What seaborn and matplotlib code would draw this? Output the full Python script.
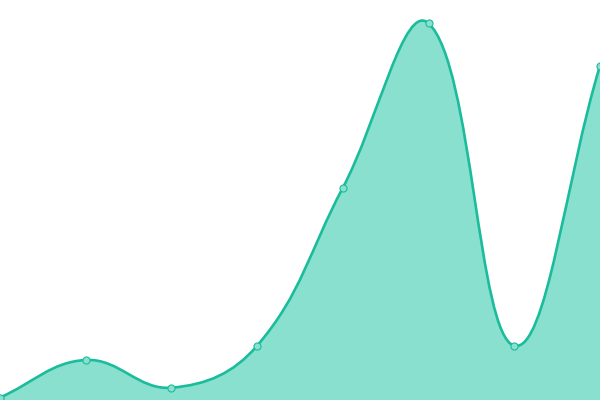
import numpy as np
import pandas as pd
import seaborn as sns
import matplotlib.pyplot as plt
from matplotlib.path import Path
from matplotlib.patches import PathPatch

# Data
x_vals = [0, 1, 2, 3, 4, 5, 6, 7]
y_vals = [2.5, 40, 12.3, 54.3, 212.3, 376.7, 54.3, 334.3]

line_color = "#1abc9c"
fill_color = "#8ae0cf"

sns.set_style("white")
fig = plt.figure(figsize=(6, 4), dpi=100)
ax = fig.add_axes([0, 0, 1, 1])
ax.set_xlim(0, 7)
ax.set_ylim(0, 400)
ax.axis("off")

data = pd.DataFrame({"x": x_vals, "y": y_vals})

# smooth bezier path (tension 0.4, control points computed in pixel space)
pts = ax.transData.transform(np.column_stack([x_vals, y_vals]))
n = len(pts)
tension = 0.4
cps = []
for i in range(n):
    p1 = pts[i]
    p0 = pts[i - 1] if i > 0 else p1
    p2 = pts[i + 1] if i < n - 1 else p1
    d01 = np.hypot(*(p1 - p0))
    d12 = np.hypot(*(p2 - p1))
    tot = d01 + d12
    fa = tension * d01 / tot if tot else 0
    fb = tension * d12 / tot if tot else 0
    c_prev = p1 - fa * (p2 - p0)
    c_next = p1 + fb * (p2 - p0)
    cps.append((c_prev, c_next))

bbox = ax.bbox
def cap(p):
    return np.array([min(max(p[0], bbox.x0), bbox.x1), min(max(p[1], bbox.y0), bbox.y1)])

inv = ax.transData.inverted()
verts = [pts[0]]
codes = [Path.MOVETO]
for i in range(n - 1):
    verts += [cap(cps[i][1]), cap(cps[i + 1][0]), pts[i + 1]]
    codes += [Path.CURVE4] * 3
verts = inv.transform(np.array(verts))

line_path = Path(verts, codes)
fill_verts = np.vstack([verts, [[x_vals[-1], 0], [x_vals[0], 0], verts[0]]])
fill_codes = codes + [Path.LINETO, Path.LINETO, Path.CLOSEPOLY]
fill_path = Path(fill_verts, fill_codes)

ax.add_patch(PathPatch(fill_path, facecolor=fill_color, edgecolor="none", zorder=1))
ax.add_patch(PathPatch(line_path, facecolor="none", edgecolor=line_color, lw=1.9,
                       capstyle="round", joinstyle="round", zorder=2))

sns.scatterplot(data=data, x="x", y="y", ax=ax, s=26, color=fill_color,
                edgecolor=line_color, linewidth=0.8, zorder=3)
ax.set_xlim(0, 7)
ax.set_ylim(0, 400)

fig.savefig("out.png", dpi=100)
